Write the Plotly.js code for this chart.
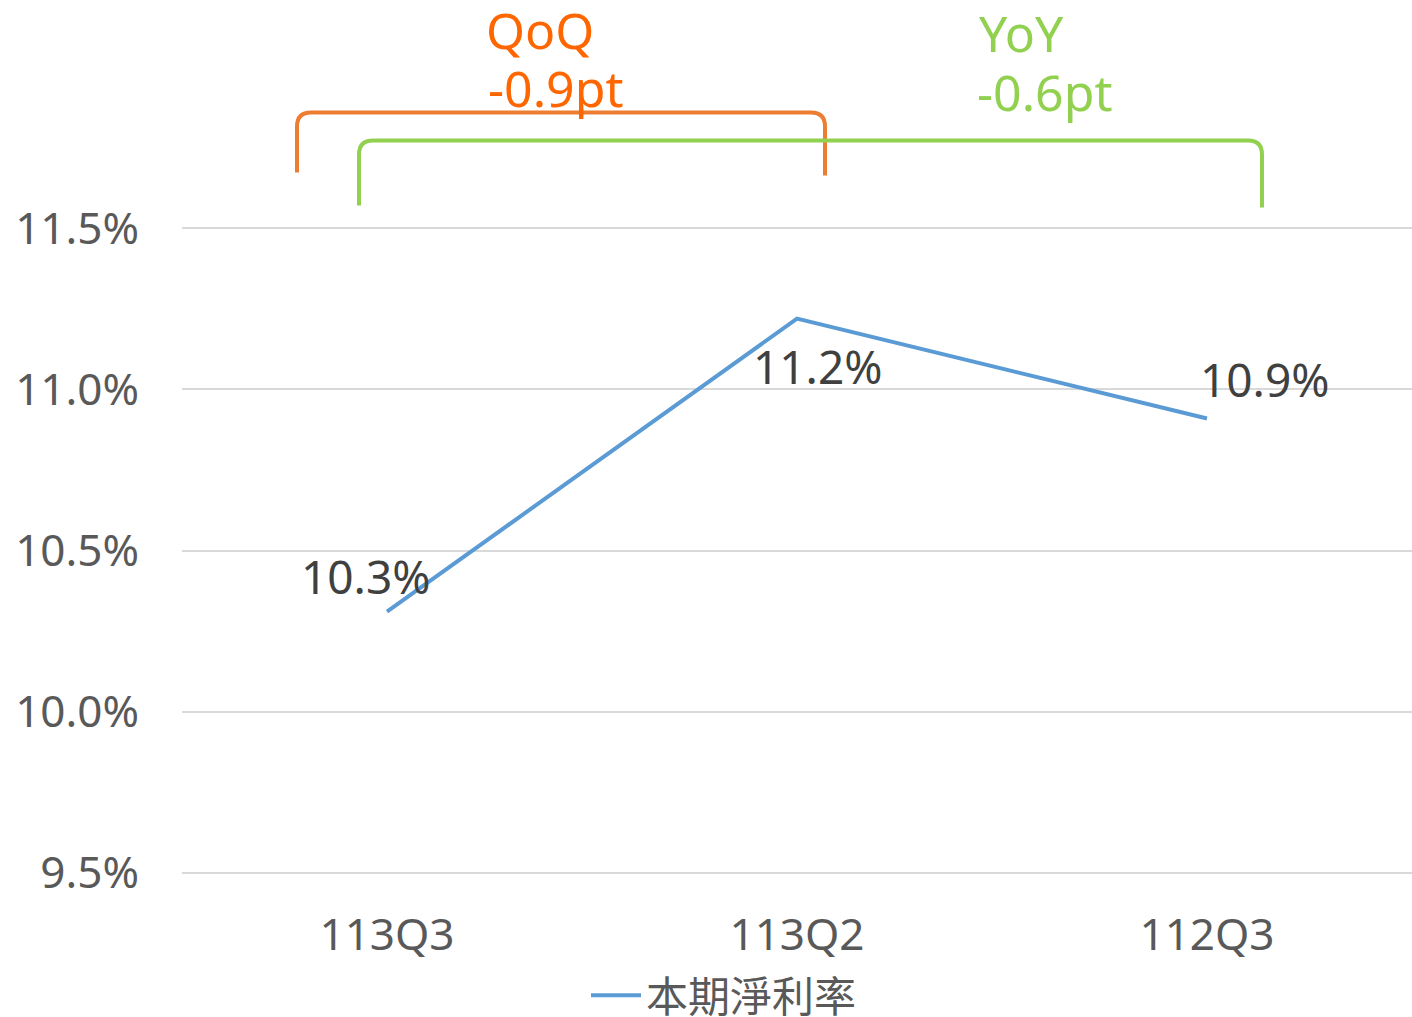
<!DOCTYPE html>
<html>
<head>
<meta charset="utf-8">
<script src="https://cdn.plot.ly/plotly-3.0.1.min.js"></script>
<style>html,body{margin:0;padding:0;background:#fff;}#chart{width:1412px;height:1017px;}</style>
</head>
<body>
<div id="chart"></div>
<script>
const categories = ["113Q3", "113Q2", "112Q3"];
const netMargin = [10.31, 11.22, 10.91];
const labels = ["10.3%", "11.2%", "10.9%"];
const seriesName = "本期淨利率";
const yTicks = [9.5, 10.0, 10.5, 11.0, 11.5];
const yTickText = ["9.5%", "10.0%", "10.5%", "11.0%", "11.5%"];
const qoqText = ["QoQ", "-0.9pt"];
const yoyText = ["YoY", "-0.6pt"];

const W = 1412, H = 1017;
const yPad = 0.02, unitPx = 322.5;
const M = {l: 182, r: 0, t: 228 - yPad * unitPx, b: 144 - yPad * unitPx, autoexpand: false};
const pw = W - M.l - M.r, ph = H - M.t - M.b;
const px = x => (x - M.l) / pw;
const py = y => (H - M.b - y) / ph;

function bracket(x1, x2, yTop, yBot1, yBot2, r) {
  return `M ${px(x1)},${py(yBot1)} L ${px(x1)},${py(yTop + r)} Q ${px(x1)},${py(yTop)} ${px(x1 + r)},${py(yTop)} ` +
         `L ${px(x2 - r)},${py(yTop)} Q ${px(x2)},${py(yTop)} ${px(x2)},${py(yTop + r)} L ${px(x2)},${py(yBot2)}`;
}

const font = "'Noto Sans', 'Noto Sans CJK TC', sans-serif";

const trace = {
  x: categories, y: netMargin, type: "scatter", mode: "lines",
  name: seriesName,
  line: {color: "#5B9BD5", width: 4},
  hoverinfo: "skip"
};

const offsets = [[-21, 36], [21, -47], [58, 39]];
const dataAnn = categories.map((c, i) => ({
  x: c, y: netMargin[i], xref: "x", yref: "y", text: labels[i], showarrow: false,
  xshift: offsets[i][0], yshift: offsets[i][1],
  font: {family: font, size: 46, color: "#404040"}
}));

const topAnn = [
  {x: px(540), y: py(29), text: qoqText[0], color: "#FF6600"},
  {x: px(556), y: py(87), text: qoqText[1], color: "#FF6600"},
  {x: px(1021), y: py(32), text: yoyText[0], color: "#92D050"},
  {x: px(1045), y: py(91), text: yoyText[1], color: "#92D050"}
].map(a => ({
  x: a.x, y: a.y, xref: "paper", yref: "paper", text: a.text, showarrow: false,
  xanchor: "center", yanchor: "middle",
  font: {family: font, size: 50, color: a.color}
}));

const layout = {
  width: W, height: H,
  margin: M,
  paper_bgcolor: "#fff", plot_bgcolor: "#fff",
  showlegend: true,
  legend: {orientation: "h", x: px(724), xanchor: "center", y: py(996), yanchor: "middle",
           itemwidth: 50,
           font: {family: font, size: 42, color: "#595959"}},
  xaxis: {type: "category", range: [-0.5, 2.5], showgrid: false, zeroline: false, showline: false, ticks: "",
          tickfont: {family: font, size: 44, color: "#595959"}, ticklabelstandoff: 26},
  yaxis: {range: [9.5 - yPad, 11.5 + yPad], tickvals: yTicks, ticktext: yTickText, showgrid: true,
          gridcolor: "#D9D9D9", gridwidth: 2, zeroline: false, showline: false, ticks: "",
          tickfont: {family: font, size: 44, color: "#595959"}, ticklabelstandoff: 42},
  shapes: [
    {type: "path", xref: "paper", yref: "paper", path: bracket(297, 825, 112, 172, 175, 14),
     line: {color: "#ED7D31", width: 4}},
    {type: "path", xref: "paper", yref: "paper", path: bracket(359, 1262, 140, 205, 207, 14),
     line: {color: "#92D050", width: 4}}
  ],
  annotations: dataAnn.concat(topAnn)
};

Plotly.newPlot("chart", [trace], layout, {displayModeBar: false, staticPlot: true});
</script>
</body>
</html>
